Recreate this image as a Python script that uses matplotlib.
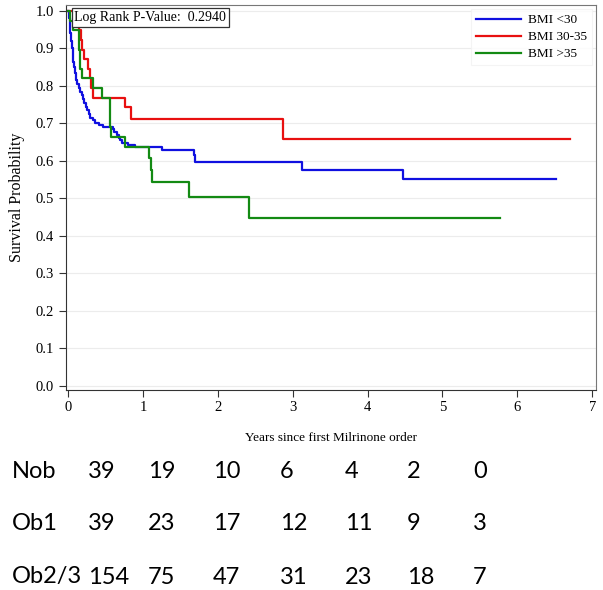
import matplotlib
matplotlib.use("Agg")
import matplotlib.pyplot as plt

# Kaplan-Meier step points (time in years, survival)
blue_t = [0, 0.01, 0.02, 0.03, 0.04, 0.05, 0.06, 0.07, 0.08, 0.09, 0.10, 0.11, 0.12,
          0.14, 0.16, 0.18, 0.20, 0.22, 0.24, 0.26, 0.28, 0.30, 0.33, 0.36, 0.42, 0.47,
          0.60, 0.62, 0.65, 0.68, 0.70, 0.72, 0.80, 0.89, 1.25, 1.68, 1.70, 3.13, 4.47, 6.52]
blue_s = [1.0, 0.98, 0.96, 0.94, 0.92, 0.90, 0.88, 0.865, 0.85, 0.835, 0.825, 0.815, 0.805,
          0.795, 0.785, 0.775, 0.765, 0.755, 0.745, 0.735, 0.725, 0.715, 0.708, 0.702, 0.697, 0.69,
          0.684, 0.677, 0.668, 0.661, 0.655, 0.648, 0.643, 0.637, 0.628, 0.617, 0.597, 0.577, 0.551, 0.551]

red_t = [0, 0.13, 0.15, 0.17, 0.19, 0.21, 0.27, 0.29, 0.31, 0.34, 0.76, 0.84, 2.87, 6.70]
red_s = [1.0, 0.974, 0.949, 0.923, 0.897, 0.872, 0.846, 0.821, 0.795, 0.769, 0.743, 0.713, 0.659, 0.659]

green_t = [0, 0.03, 0.06, 0.14, 0.16, 0.18, 0.34, 0.45, 0.56, 0.58, 0.76, 1.08, 1.11, 1.12, 1.62, 2.41, 5.77]
green_s = [1.0, 0.974, 0.949, 0.897, 0.846, 0.821, 0.795, 0.769, 0.690, 0.664, 0.637, 0.609, 0.575,
           0.544, 0.504, 0.448, 0.448]

series_labels = ['BMI <30', 'BMI 30-35', 'BMI >35']
series_colors = ['#1010e0', '#e81010', '#138a13']

# numbers at risk table
risk_groups = ['Nob', 'Ob1', 'Ob2/3']
risk_counts = [[39, 19, 10, 6, 4, 2, 0],
               [39, 23, 17, 12, 11, 9, 3],
               [154, 75, 47, 31, 23, 18, 7]]

W, H = 603, 590
serif = ['Liberation Serif', 'DejaVu Serif']

fig = plt.figure(figsize=(W / 100, H / 100), dpi=100)
ax = fig.add_axes([66 / W, 1 - 390 / H, (596 - 66) / W, (390 - 5) / H])

for t, s, lab, col in zip([blue_t, red_t, green_t], [blue_s, red_s, green_s],
                          series_labels, series_colors):
    ax.step(t, s, where='post', color=col, lw=1.6, label=lab)

ax.set_xlim(-0.027, 7.05)
ax.set_ylim(-0.011, 1.016)
ax.set_xticks(range(0, 8))
ax.set_yticks([i / 10 for i in range(11)])
ax.set_yticklabels(['%.1f' % (i / 10) for i in range(11)])
ax.grid(axis='y', color='#ececec', lw=0.8)
ax.set_axisbelow(True)
for side in ['top', 'right']:
    ax.spines[side].set_color('#777777')
for side in ['left', 'bottom']:
    ax.spines[side].set_color('#333333')
ax.tick_params(direction='out', length=5, width=0.8, color='#333333', labelsize=10.5)
for lbl in ax.get_xticklabels() + ax.get_yticklabels():
    lbl.set_family(serif)
ax.tick_params(axis='x', pad=3)

ax.set_xlabel('Years since first Milrinone order', family=serif, fontsize=9.5, labelpad=13)
ax.set_ylabel('Survival Probability', family=serif, fontsize=11.5, labelpad=8)

ax.text(0.016, 0.985, 'Log Rank P-Value:  0.2940', transform=ax.transAxes, family=serif,
        fontsize=10, va='top', ha='left',
        bbox=dict(boxstyle='square,pad=0.2', fc='white', ec='#333333', lw=0.9))

leg = ax.legend(loc='upper right', prop={'family': serif, 'size': 9.5}, frameon=True,
                handlelength=3.4, handletextpad=0.5, labelspacing=0.35,
                borderaxespad=0.3, fancybox=False)
leg.get_frame().set_edgecolor('#f2f2f2')
leg.get_frame().set_linewidth(0.8)

# risk table below the plot
row_y = [472, 523, 577]
col_x = [88, 148, 213, 280, 345, 407, 473]
for grp, counts, y in zip(risk_groups, risk_counts, row_y):
    fig.text(12 / W, 1 - y / H, grp, fontsize=17, family='Lato', va='center', ha='left')
    for c, x in zip(counts, col_x):
        fig.text(x / W, 1 - y / H, str(c), fontsize=17, family='Lato', va='center', ha='left')

fig.savefig('out.png', dpi=100)
